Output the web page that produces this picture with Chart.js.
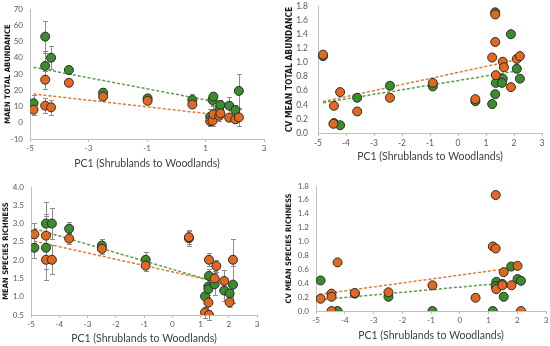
<!DOCTYPE html>
<html>
<head>
<meta charset="utf-8">
<script src="https://cdn.jsdelivr.net/npm/chart.js@4.4.0/dist/chart.umd.min.js"></script>
<style>
  body { margin: 0; background: #fff; overflow: hidden; }
  #wrap { position: relative; width: 550px; height: 346px; overflow: hidden; }
  .panel { position: absolute; width: 290px; height: 173px; }
  .panel canvas { display: block; }
</style>
</head>
<body>
<div id="wrap">
  <div class="panel" style="left:0;top:0"><canvas id="c1" width="290" height="173"></canvas></div>
  <div class="panel" style="left:275px;top:0"><canvas id="c2" width="290" height="173"></canvas></div>
  <div class="panel" style="left:0;top:173px"><canvas id="c3" width="290" height="173"></canvas></div>
  <div class="panel" style="left:275px;top:173px"><canvas id="c4" width="290" height="173"></canvas></div>
</div>
<script>
// x tick labels
const xTicksWide = [-5, -3, -1, 1, 3];
const xTicksUnit = [-5, -4, -3, -2, -1, 0, 1, 2, 3];

// ---- Panel 1: mean total abundance ----
const abundX = [-4.88, -4.48, -4.48, -4.28, -3.67, -2.5, -0.98, 0.55, 1.16, 1.24, 1.27, 1.47, 1.51, 1.81, 2.02, 2.14];
const abundGreen = [12, 53, 35, 40, 32.5, 18.5, 15, 14, 3.7, 14, 16.1, 7.8, 10.9, 10.5, 7.8, 19.6];
const abundGreenErr = [5, 9.8, 9, 7, 2.7, 2.7, 3, 3.5, 5, 3, 2.5, 4, 3, 5.5, 3, 10.3];
const abundOrange = [8, 26.5, 10.5, 9.5, 24.6, 16.1, 13.5, 11.2, 1, 1.2, 5.2, 4.3, 5.8, 3.1, 2.1, 3.3];
const abundOrangeErr = [3, 5.5, 4.5, 4.5, 2, 2, 2, 2, 3, 3, 5, 3, 3, 2, 2, 5];
const abundTrendX = [-4.88, 1.26];
const abundTrendGreen = [34.1, 13.2];
const abundTrendOrange = [17.7, 5.2];

// ---- Panel 2: CV mean total abundance ----
const cvAbundGreenX = [-4.82, -4.43, -4.21, -3.6, -2.43, -0.9, 0.62, 1.22, 1.33, 1.33, 1.35, 1.6, 1.57, 1.89, 2.1, 2.21];
const cvAbundGreen = [1.09, 0.14, 0.11, 0.5, 0.67, 0.66, 0.45, 0.41, 1.71, 0.55, 0.71, 0.77, 0.71, 1.4, 0.91, 0.77];
const cvAbundOrangeX = [-4.82, -4.21, -4.43, -4.45, -3.6, -2.43, -0.9, 0.62, 1.22, 1.33, 1.33, 1.35, 1.6, 1.64, 1.89, 2.1, 2.21];
const cvAbundOrange = [1.11, 0.58, 0.385, 0.13, 0.305, 0.5, 0.71, 0.48, 1.07, 1.29, 1.68, 0.82, 1.01, 0.93, 0.65, 1.05, 1.09];
const cvAbundTrendX = [-4.82, 2.12];
const cvAbundTrendGreen = [0.43, 0.88];
const cvAbundTrendOrange = [0.445, 1.04];

// ---- Panel 3: mean species richness ----
const richGreenX = [-4.88, -4.47, -4.47, -4.26, -3.65, -2.49, -0.94, 0.59, 1.16, 1.28, 1.28, 1.3, 1.5, 1.84, 2.03, 2.15];
const richGreen = [2.34, 3.0, 2.34, 3.0, 2.86, 2.4, 2.01, 2.6, 1.01, 1.28, 1.21, 1.57, 1.34, 1.17, 1.09, 1.33];
const richGreenErr = [0.27, 0.58, 0.87, 0.43, 0.18, 0.17, 0.2, 0.2, 0.3, 0.3, 0.3, 0.2, 0.3, 0.28, 0.2, 0.5];
const richOrangeX = [-4.88, -4.47, -4.47, -4.26, -3.65, -2.49, -0.94, 0.59, 1.16, 1.28, 1.3, 1.3, 1.5, 1.56, 1.84, 2.03, 2.15];
const richOrange = [2.71, 2.67, 2.01, 2.01, 2.59, 2.31, 1.85, 2.63, 0.57, 0.84, 0.5, 2.01, 1.5, 1.84, 1.43, 0.85, 2.01];
const richOrangeErr = [0.3, 0.58, 0.25, 0.4, 0.15, 0.15, 0.16, 0.2, 0.15, 0.2, 0.15, 0.18, 0.2, 0.17, 0.3, 0.13, 0.58];
const richTrendX = [-4.88, 1.46];
const richTrendGreen = [2.86, 1.42];
const richTrendOrange = [2.52, 1.43];

// ---- Panel 4: CV mean species richness ----
const cvRichGreenX = [-4.84, -4.25, -3.65, -2.48, -0.95, 1.15, 1.27, 1.25, 1.48, 1.53, 1.79, 2.01, 2.13];
const cvRichGreen = [0.44, 0.0, 0.25, 0.205, 0.0, 0.0, 0.42, 0.36, 0.39, 0.205, 0.64, 0.46, 0.435];
const cvRichOrangeX = [-4.84, -4.46, -4.46, -4.46, -4.25, -3.65, -2.48, -0.95, 0.55, 1.15, 1.25, 1.25, 1.27, 1.48, 1.53, 1.8, 2.01, 2.13];
const cvRichOrange = [0.177, 0.0, 0.25, 0.205, 0.7, 0.26, 0.27, 0.37, 0.19, 0.93, 0.9, 1.67, 0.315, 0.37, 0.56, 0.37, 0.65, 0.0];
const cvRichTrendX = [-4.88, 2.0];
const cvRichTrendGreen = [0.16, 0.42];
const cvRichTrendOrange = [0.24, 0.63];

const GREEN = '#3b8c2c';
const ORANGE = '#e3681f';
const GREEN_LINE = '#5e9c4c';
const ORANGE_LINE = '#e27a38';
const AXIS = '#bfbfbf';
const FONT = 'Lato';
const TITLE_FONT = '"Liberation Sans Narrow", "DejaVu Sans Condensed", sans-serif';

function pts(xs, ys) {
  return xs.map((x, i) => ({ x: x, y: ys[i] }));
}

// draws vertical error bars under the markers
const errorBars = {
  id: 'errorBars',
  beforeDatasetsDraw(chart) {
    const ctx = chart.ctx;
    const xs = chart.scales.x, ys = chart.scales.y;
    chart.data.datasets.forEach(ds => {
      if (!ds.errors) return;
      ctx.save();
      ctx.strokeStyle = '#8c8c8c';
      ctx.lineWidth = 1;
      ds.data.forEach((p, i) => {
        const e = ds.errors[i];
        if (!e) return;
        const px = Math.round(xs.getPixelForValue(p.x)) + 0.5;
        const top = Math.round(ys.getPixelForValue(p.y + e)) + 0.5;
        const bot = Math.round(ys.getPixelForValue(p.y - e)) + 0.5;
        ctx.beginPath();
        ctx.moveTo(px, top); ctx.lineTo(px, bot);
        ctx.moveTo(px - 2.5, top); ctx.lineTo(px + 2.5, top);
        ctx.moveTo(px - 2.5, bot); ctx.lineTo(px + 2.5, bot);
        ctx.stroke();
      });
      ctx.restore();
    });
  }
};

function scatterSet(data, color, errors, order) {
  return {
    type: 'scatter',
    data: data,
    errors: errors,
    backgroundColor: color,
    borderColor: '#2b2b2b',
    borderWidth: 1,
    pointRadius: 4.5,
    order: order
  };
}

function trendSet(xs, ys, color) {
  return {
    type: 'line',
    data: pts(xs, ys),
    borderColor: color,
    borderWidth: 1.5,
    borderDash: [3, 2],
    pointRadius: 0,
    fill: false,
    order: 5
  };
}

function makePanel(id, p) {
  const W = 290, H = 173;
  new Chart(document.getElementById(id), {
    data: {
      datasets: [
        trendSet(p.trendX, p.trendGreen, GREEN_LINE),
        trendSet(p.trendX, p.trendOrange, ORANGE_LINE),
        scatterSet(pts(p.greenX, p.green), GREEN, p.greenErr, 2),
        scatterSet(pts(p.orangeX, p.orange), ORANGE, p.orangeErr, 1)
      ]
    },
    options: {
      responsive: false,
      animation: false,
      layout: { padding: { left: 0, top: p.area.top, right: W - p.area.right, bottom: 0 } },
      plugins: { legend: { display: false }, tooltip: { enabled: false } },
      scales: {
        x: {
          type: 'linear',
          min: -5, max: 3,
          afterBuildTicks(s) { s.ticks = p.xTicks.map(v => ({ value: v })); },
          ticks: {
            autoSkip: false, color: '#595959', font: { family: FONT, size: p.tickSize }, padding: 2,
            callback: v => String(Math.round(v))
          },
          grid: { display: true, drawOnChartArea: false, drawTicks: true, tickLength: 3, color: AXIS },
          border: { color: AXIS },
          title: {
            display: true, text: 'PC1 (Shrublands to Woodlands)', color: '#404040',
            font: { family: FONT, size: 10.5 }, padding: { top: 2, bottom: p.xTitleBottom }
          },
          afterFit(s) { s.height = H - p.area.bottom; s.paddingLeft = 0; s.paddingRight = 0; }
        },
        y: {
          min: p.yMin, max: p.yMax,
          ticks: {
            stepSize: p.yStep, autoSkip: false, color: '#595959', font: { family: FONT, size: p.tickSize }, padding: p.yTickPad,
            callback: v => p.decimals ? v.toFixed(1) : v
          },
          grid: { display: false, drawTicks: false },
          border: { color: AXIS },
          title: {
            display: true, text: p.yTitle, color: '#1a1a1a',
            font: { family: TITLE_FONT, size: p.yTitleSize, weight: 'bold' },
            padding: { top: p.yTitleCenter - p.yTitleSize * 0.6, bottom: 0 }
          },
          afterFit(s) { s.width = p.area.left; s.paddingTop = 0; s.paddingBottom = 0; }
        }
      }
    },
    plugins: [errorBars]
  });
}

makePanel('c1', {
  greenX: abundX, green: abundGreen, greenErr: abundGreenErr,
  orangeX: abundX, orange: abundOrange, orangeErr: abundOrangeErr,
  trendX: abundTrendX, trendGreen: abundTrendGreen, trendOrange: abundTrendOrange,
  yMin: -10, yMax: 70, yStep: 10, decimals: false, xTicks: xTicksWide,
  yTitle: 'MAEN TOTAL ABUNDANCE', yTitleSize: 7.6, yTitleCenter: 8,
  tickSize: 8, yTickPad: 7,
  area: { left: 30, right: 264, top: 9, bottom: 139 }, xTitleBottom: 3
});

makePanel('c2', {
  greenX: cvAbundGreenX, green: cvAbundGreen,
  orangeX: cvAbundOrangeX, orange: cvAbundOrange,
  trendX: cvAbundTrendX, trendGreen: cvAbundTrendGreen, trendOrange: cvAbundTrendOrange,
  yMin: 0, yMax: 1.8, yStep: 0.2, decimals: true, xTicks: xTicksUnit,
  yTitle: 'CV MEAN TOTAL ABUNDANCE', yTitleSize: 8.5, yTitleCenter: 15,
  tickSize: 8.5, yTickPad: 10,
  area: { left: 43, right: 267, top: 6, bottom: 133 }, xTitleBottom: 10
});

makePanel('c3', {
  greenX: richGreenX, green: richGreen, greenErr: richGreenErr,
  orangeX: richOrangeX, orange: richOrange, orangeErr: richOrangeErr,
  trendX: richTrendX, trendGreen: richTrendGreen, trendOrange: richTrendOrange,
  yMin: 0.5, yMax: 4.0, yStep: 0.5, decimals: true, xTicks: xTicksUnit,
  yTitle: 'MEAN SPECIES RICHNESS', yTitleSize: 7.6, yTitleCenter: 6,
  tickSize: 8, yTickPad: 7,
  area: { left: 31, right: 257, top: 14, bottom: 142 }, xTitleBottom: 1
});

makePanel('c4', {
  greenX: cvRichGreenX, green: cvRichGreen,
  orangeX: cvRichOrangeX, orange: cvRichOrange,
  trendX: cvRichTrendX, trendGreen: cvRichTrendGreen, trendOrange: cvRichTrendOrange,
  yMin: 0, yMax: 1.8, yStep: 0.2, decimals: true, xTicks: xTicksUnit,
  yTitle: 'CV MEAN SPECIES RICHNESS', yTitleSize: 7.6, yTitleCenter: 14,
  tickSize: 8, yTickPad: 7,
  area: { left: 41, right: 271, top: 13, bottom: 138 }, xTitleBottom: 4
});
</script>
</body>
</html>
